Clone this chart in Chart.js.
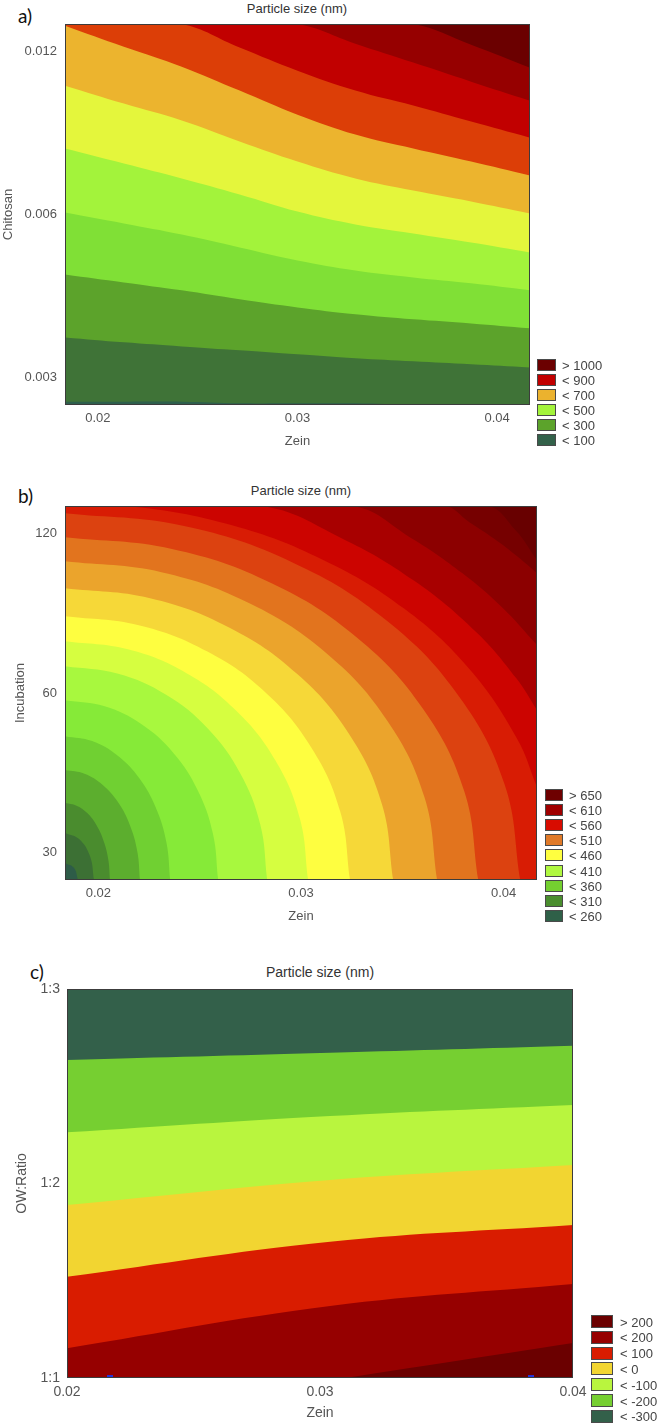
<!DOCTYPE html>
<html>
<head>
<meta charset="utf-8">
<script src="https://cdn.jsdelivr.net/npm/chart.js@4.4.1/dist/chart.umd.min.js"></script>
<style>
  html, body { margin: 0; padding: 0; background: #fff; }
  body { width: 661px; height: 1423px; position: relative; overflow: hidden;
         font-family: "Liberation Sans", Arial, sans-serif; }
  canvas { position: absolute; left: 0; }
  .tag { position: absolute; font-family: Lato, "Noto Sans", sans-serif; font-size: 19px; color: #111;
         line-height: 1; transform: translateY(-50%); }
  .ptitle { position: absolute; color: #333; white-space: nowrap; line-height: 1;
            transform: translate(-50%, -50%); }
  .legend { position: absolute; }
  .lg-row { position: absolute; left: 0; height: 12px; }
  .lg-box { position: absolute; left: 0; top: 0; box-sizing: border-box; border: 1px solid #4a4a4a; }
  .lg-text { position: absolute; top: 50%; transform: translateY(-50%); font-size: 13px; color: #444;
             white-space: nowrap; line-height: 1; }
</style>
</head>
<body>

<div class="tag" style="left:18px;top:15px;">a)</div>
<div class="ptitle" style="left:297px;top:8px;font-size:13px;">Particle size (nm)</div>
<canvas id="chart-a" width="550" height="449" style="top:0px;"></canvas>
<div class="legend" id="legend-a" style="left:537px;top:359px;"></div>

<div class="tag" style="left:18px;top:495px;">b)</div>
<div class="ptitle" style="left:301px;top:490px;font-size:13px;">Particle size (nm)</div>
<canvas id="chart-b" width="557" height="444" style="top:480px;"></canvas>
<div class="legend" id="legend-b" style="left:545px;top:789px;"></div>

<div class="tag" style="left:30px;top:971px;">c)</div>
<div class="ptitle" style="left:320px;top:972px;font-size:14px;">Particle size (nm)</div>
<canvas id="chart-c" width="593" height="462" style="top:960px;"></canvas>
<div class="legend" id="legend-c" style="left:591px;top:1315px;"></div>

<script>
const FONT = '"Liberation Sans", Arial, sans-serif';

// ─── a) Chitosan x Zein (coded axes, contour lines listed top to bottom) ───
const A_X = [-1.165, -0.87, -0.58, -0.29, 0, 0.29, 0.58, 0.87, 1.165];
const A_LINES = [
  [1.17, 1.17, 1.17, 1.17, 1.17, 1.17, 1.17, 1.043, 0.902],
  [1.17, 1.17, 1.17, 1.17, 1.17, 1.049, 0.933, 0.816, 0.699],
  [1.17, 1.17, 1.17, 1.025, 0.883, 0.761, 0.669, 0.571, 0.472],
  [1.160, 1.031, 0.908, 0.761, 0.613, 0.491, 0.405, 0.325, 0.239],
  [0.791, 0.681, 0.577, 0.448, 0.325, 0.221, 0.147, 0.080, 0.006],
  [0.405, 0.313, 0.221, 0.123, 0.018, -0.061, -0.117, -0.172, -0.233],
  [0.012, -0.055, -0.123, -0.202, -0.282, -0.344, -0.387, -0.423, -0.466],
  [-0.368, -0.417, -0.466, -0.521, -0.571, -0.613, -0.644, -0.669, -0.699],
  [-0.755, -0.785, -0.810, -0.834, -0.859, -0.883, -0.902, -0.920, -0.939],
  [-1.15, -1.15, -1.15, -1.16, -1.16, -1.16, -1.17, -1.17, -1.17]
];
const A_FILLS = ['#6b0000', '#960000', '#c10000', '#dc3e07', '#ecb42e', '#e4f63c',
                 '#a3f33b', '#80e036', '#5ca32b', '#3f7337', '#2e5f4c'];
const A_XLABELS = ['0.02', '0.03', '0.04'];
const A_YLABELS = ['0.003', '0.006', '0.012'];
const A_LEGEND = ['> 1000', '< 900', '< 700', '< 500', '< 300', '< 100'];
const A_LEGEND_COLORS = ['#6b0000', '#c10000', '#ebb22e', '#a3f33b', '#5ca32b', '#33614a'];

// ─── b) Incubation x Zein (highest level first) ───
const B_LINES = [
  [[-1.165, 1.17], [0.911, 1.17], [1.059, 1.019], [1.165, 0.831]],
  [[-1.165, 1.17], [0.704, 1.17], [0.833, 1.067], [0.954, 0.965], [1.067, 0.855], [1.165, 0.75]],
  [[-1.165, 1.17], [0.244, 1.17], [0.545, 0.969], [0.797, 0.749], [0.991, 0.538], [1.165, 0.30]],
  [[-1.165, 1.17], [-0.200, 1.17], [0.200, 0.969], [0.557, 0.704], [0.863, 0.384], [1.063, 0.092], [1.165, -0.106]],
  [[-1.165, 1.17], [-0.852, 1.17], [-0.340, 1.049], [0.112, 0.831], [0.509, 0.528], [0.831, 0.150], [1.066, -0.284], [1.165, -0.588]],
  [[-1.165, 1.124], [-0.583, 1.046], [-0.042, 0.817], [0.424, 0.452], [0.781, -0.023], [1.006, -0.576], [1.082, -1.17]],
  [[-1.165, 0.974], [-0.637, 0.901], [-0.145, 0.687], [0.277, 0.346], [0.602, -0.098], [0.806, -0.615], [0.875, -1.17]],
  [[-1.165, 0.824], [-0.689, 0.756], [-0.247, 0.557], [0.134, 0.240], [0.426, -0.173], [0.610, -0.654], [0.672, -1.17]],
  [[-1.165, 0.655], [-0.745, 0.593], [-0.355, 0.410], [-0.020, 0.120], [0.238, -0.258], [0.400, -0.697], [0.455, -1.17]],
  [[-1.165, 0.480], [-0.801, 0.424], [-0.462, 0.259], [-0.170, -0.003], [0.053, -0.345], [0.194, -0.743], [0.242, -1.17]],
  [[-1.165, 0.324], [-0.854, 0.273], [-0.565, 0.124], [-0.317, -0.114], [-0.126, -0.423], [-0.006, -0.783], [0.035, -1.17]],
  [[-1.165, 0.168], [-0.907, 0.122], [-0.666, -0.011], [-0.459, -0.224], [-0.301, -0.501], [-0.201, -0.823], [-0.167, -1.17]],
  [[-1.165, -0.045], [-0.969, -0.083], [-0.787, -0.196], [-0.630, -0.375], [-0.510, -0.608], [-0.435, -0.879], [-0.409, -1.17]],
  [[-1.165, -0.270], [-1.031, -0.301], [-0.906, -0.391], [-0.798, -0.534], [-0.716, -0.720], [-0.664, -0.937], [-0.646, -1.17]],
  [[-1.165, -0.482], [-1.069, -0.505], [-0.980, -0.574], [-0.903, -0.684], [-0.845, -0.826], [-0.808, -0.992], [-0.795, -1.17]],
  [[-1.165, -0.689], [-1.108, -0.705], [-1.054, -0.753], [-1.008, -0.830], [-0.973, -0.930], [-0.951, -1.045], [-0.943, -1.17]],
  [[-1.165, -0.876], [-1.094, -0.915], [-1.041, -1.023], [-1.022, -1.17]],
  [[-1.165, -1.064], [-1.12, -1.095], [-1.101, -1.17]]
];
const B_FILLS = ['#680000', '#760000', '#8c0000', '#a80000', '#cc0400', '#d81c04', '#dc4210',
                 '#e2741e', '#eba42c', '#f6d838', '#fefe40', '#d6fe40', '#a8f83e', '#86ea38',
                 '#70d032', '#5cae2e', '#4a8c2e', '#3c7034', '#2e5c48'];
const B_XLABELS = ['0.02', '0.03', '0.04'];
const B_YLABELS = ['30', '60', '120'];
const B_LEGEND = ['> 650', '< 610', '< 560', '< 510', '< 460', '< 410', '< 360', '< 310', '< 260'];
const B_LEGEND_COLORS = ['#6e0000', '#a00000', '#d80c00', '#e07a28', '#ffff40', '#b0f840',
                         '#74d030', '#4a8e2e', '#2f6048'];

// ─── c) OW ratio x Zein ───
const C_LINES = [
  [[-1, 0.635], [0.04, 0.672], [1, 0.708]],
  [[-1, 0.263], [0.04, 0.347], [1, 0.404]],
  [[-1, -0.111], [0.04, 0.018], [1, 0.095]],
  [[-1, -0.479], [0.04, -0.299], [1, -0.213]],
  [[-1, -0.847], [0.04, -0.630], [1, -0.517]],
  [[0.099, -1], [1, -0.820]]
];
const C_FILLS = ['#33604a', '#76cf31', '#b9f53e', '#f2d531', '#d91c00', '#960000', '#6b0000'];
const C_XLABELS = ['0.02', '0.03', '0.04'];
const C_YLABELS = ['1:1', '1:2', '1:3'];
const C_MARKS = [[-0.83, -0.99], [0.834, -0.99]];   // small blue design-point ticks on the bottom edge
const C_LEGEND = ['> 200', '< 200', '< 100', '< 0', '< -100', '< -200', '< -300'];
const C_LEGEND_COLORS = ['#6b0000', '#960000', '#d91c00', '#f2d531', '#b9f53e', '#76cf31', '#33604a'];

const TICKS = [-1, 0, 1];

// plot background = region above the first contour, plus the thin frame
const plotFrame = {
  id: 'plotFrame',
  beforeDatasetsDraw(chart, args, opts) {
    const { ctx, chartArea: a } = chart;
    ctx.save();
    ctx.fillStyle = opts.color;
    ctx.fillRect(a.left, a.top, a.width, a.height);
    ctx.restore();
  },
  afterDraw(chart, args, opts) {
    const { ctx, chartArea: a } = chart;
    ctx.save();
    ctx.strokeStyle = opts.frame;
    ctx.lineWidth = 1;
    ctx.strokeRect(a.left + 0.5, a.top + 0.5, a.width - 1, a.height - 1);
    ctx.restore();
  }
};

function contourChart(id, o) {
  const n = o.lines.length;
  const tickFont = { size: o.fontSize, family: FONT };
  const datasets = o.lines.map((pts, i) => ({
    data: pts.map(p => ({ x: p[0], y: p[1] })),
    backgroundColor: o.fills[i + 1],
    borderWidth: 0,
    pointRadius: 0,
    fill: 'start',
    tension: 0.4,
    order: n - i + 1
  }));
  if (o.marks) {
    datasets.push({
      type: 'scatter',
      data: o.marks.map(p => ({ x: p[0], y: p[1] })),
      pointStyle: 'line', pointRadius: 3, borderWidth: 2,
      borderColor: '#2233dd', backgroundColor: '#2233dd',
      order: 0
    });
  }
  return new Chart(document.getElementById(id).getContext('2d'), {
    type: 'line',
    data: { datasets },
    options: {
      responsive: false,
      animation: false,
      layout: { padding: { top: o.padTop, right: o.padRight, left: 0, bottom: 0 } },
      plugins: {
        legend: { display: false },
        tooltip: { enabled: false },
        plotFrame: { color: o.fills[0], frame: '#3c3c3c' }
      },
      scales: {
        x: {
          type: 'linear', min: o.xRange[0], max: o.xRange[1],
          afterBuildTicks: s => { s.ticks = TICKS.map(v => ({ value: v })); },
          afterFit: s => { s.height = 44; },
          grid: { display: false, drawTicks: false },
          border: { display: false },
          ticks: { callback: (v, i) => o.xLabels[i], color: '#555', font: tickFont,
                   padding: 6, maxRotation: 0, autoSkip: false },
          title: { display: true, text: 'Zein', color: '#555', font: tickFont,
                   padding: { top: 0, bottom: 0 } }
        },
        y: {
          type: 'linear', min: o.yRange[0], max: o.yRange[1],
          afterBuildTicks: s => { s.ticks = TICKS.map(v => ({ value: v })); },
          afterFit: s => { s.width = o.yWidth; },
          grid: { display: false, drawTicks: false },
          border: { display: false },
          ticks: { callback: (v, i) => o.yLabels[i], color: '#555', font: tickFont,
                   padding: o.yTickPad, autoSkip: false },
          title: { display: true, text: o.yTitle, color: '#555', font: tickFont,
                   padding: { top: o.yTitlePad, bottom: 0 } }
        }
      }
    },
    plugins: [plotFrame]
  });
}

function renderLegend(id, labels, colors, box) {
  const el = document.getElementById(id);
  el.innerHTML = labels.map((t, i) =>
    `<div class="lg-row" style="top:${(i * box.step).toFixed(1)}px;height:${box.h}px;">` +
    `<span class="lg-box" style="width:${box.w}px;height:${box.h}px;background:${colors[i]};"></span>` +
    `<span class="lg-text" style="left:${box.textX}px;">${t.replace('<', '&lt;').replace('>', '&gt;')}</span></div>`
  ).join('');
}

contourChart('chart-a', {
  lines: A_LINES.map(ys => ys.map((y, i) => [A_X[i], y])),
  fills: A_FILLS, xLabels: A_XLABELS, yLabels: A_YLABELS, yTitle: 'Chitosan',
  xRange: [-1.165, 1.165], yRange: [-1.17, 1.17],
  padTop: 24, padRight: 20, yWidth: 65, yTickPad: 8, yTitlePad: 1, fontSize: 13
});
contourChart('chart-b', {
  lines: B_LINES, fills: B_FILLS, xLabels: B_XLABELS, yLabels: B_YLABELS, yTitle: 'Incubation',
  xRange: [-1.165, 1.165], yRange: [-1.17, 1.17],
  padTop: 26, padRight: 20, yWidth: 65, yTickPad: 8, yTitlePad: 13, fontSize: 13
});
contourChart('chart-c', {
  lines: C_LINES, fills: C_FILLS, marks: C_MARKS, xLabels: C_XLABELS, yLabels: C_YLABELS, yTitle: 'OW:Ratio',
  xRange: [-1, 1], yRange: [-1, 1],
  padTop: 29, padRight: 20, yWidth: 67, yTickPad: 7, yTitlePad: 13.6, fontSize: 14
});

renderLegend('legend-a', A_LEGEND, A_LEGEND_COLORS, { step: 15, w: 19, h: 12, textX: 25 });
renderLegend('legend-b', B_LEGEND, B_LEGEND_COLORS, { step: 15.1, w: 18, h: 12, textX: 24 });
renderLegend('legend-c', C_LEGEND, C_LEGEND_COLORS, { step: 15.8, w: 22, h: 13, textX: 29 });
</script>
</body>
</html>
